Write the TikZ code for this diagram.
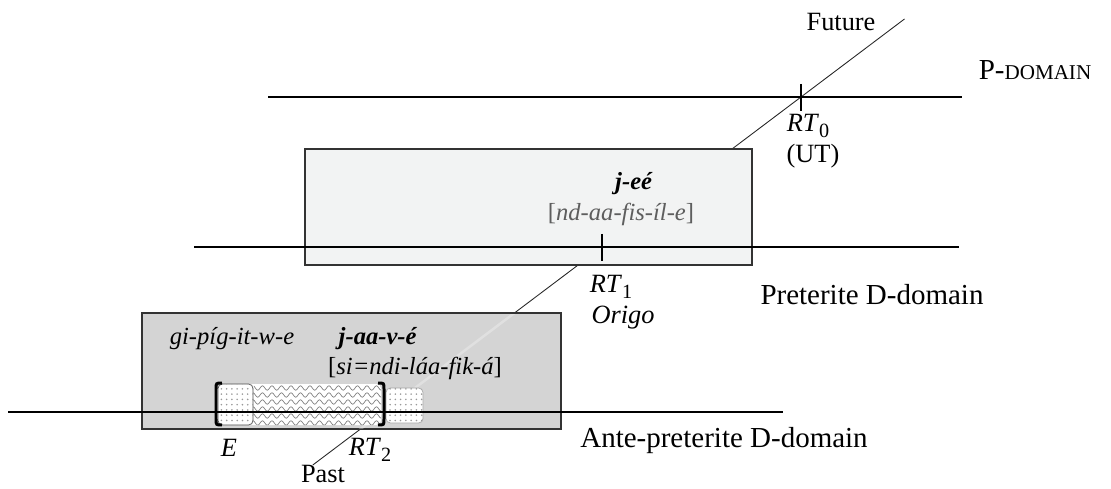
\documentclass[tikz,border=0pt]{standalone}
\usepackage{fontspec}
\setmainfont{Liberation Serif}
\usetikzlibrary{calc,patterns,decorations.pathmorphing}
\definecolor{boxlight}{HTML}{F2F3F3}
\definecolor{boxdark}{HTML}{D4D4D4}
\definecolor{glossgray}{HTML}{5E5E5E}
\newcommand{\rtsub}[1]{\textit{RT}\raisebox{-0.45ex}{\fontsize{11.5}{12}\selectfont #1}}
\tikzset{
  timeline/.style={line width=1.1pt, black},
  timearrow/.style={line width=0.5pt, black!85},
  tick/.style={line width=0.8pt, black},
  domainbox/.style={line width=0.8pt, draw=black!80},
  spanbox/.style={fill=white, rounded corners=2.5pt, postaction={pattern=dots, pattern color=black!40}},
  wave/.style={black!55, line width=0.35pt, decorate, decoration={snake, amplitude=0.045cm, segment length=0.19cm}},
  bracketline/.style={line width=1.7pt, black},
  lbl/.style={inner sep=0pt, font=\fontsize{15}{17}\selectfont},
  domlbl/.style={inner sep=0pt, font=\fontsize{16.5}{19}\selectfont},
  boxtext/.style={inner sep=0pt, font=\fontsize{14}{17}\selectfont}
}
\begin{document}
\begin{tikzpicture}[x=0.02cm, y=-0.02cm]
        \useasboundingbox (0,0) rectangle (1111,489);
        % Reference points and the time arrow through them
        \coordinate (rt0) at (801,97);
        \coordinate (rt1) at (602,247);
        \coordinate (past) at ($(rt1)!-1.453!(rt0)$);
        \coordinate (future) at ($(rt1)!1.52!(rt0)$);
        \draw[timearrow] (past) -- (future);
        % Domain boxes (over the arrow)
        \draw[domainbox, fill=boxlight] (305,149) rectangle (752,265);
        \draw[domainbox, fill=boxdark] (142,313) rectangle (561,429);
        \begin{scope}
            \clip (143,314) rectangle (560,428);
            \draw[white, opacity=0.3, line width=1.4pt] (past) -- (future);
        \end{scope}
        % Event span E
        \fill[white, rounded corners=2.5pt] (218,384) rectangle (381,425);
        \draw[spanbox, draw=black!70, line width=0.4pt] (218,384) rectangle (253,425);
        \begin{scope}
            \clip[rounded corners=2.5pt] (253,384) rectangle (381,425);
            \foreach \yy in {388,395,...,424}
                \draw[wave] (250,\yy) -- (386,\yy);
        \end{scope}
        \draw[spanbox, draw=black!35, line width=0.4pt] (386,388) rectangle (423,423);
        \draw[bracketline] (222,383) .. controls (216,383) .. (216,389) -- (216,419) .. controls (216,425) .. (222,425);
        \draw[bracketline] (378,383) .. controls (384,383) .. (384,389) -- (384,419) .. controls (384,425) .. (378,425);
        % Domain lines
        \foreach \n/\a/\b/\y in {pdom/268/962/97, pret/194/959/247, ante/8/783/412} {
            \coordinate (\n-w) at (\a,\y);
            \coordinate (\n-e) at (\b,\y);
            \draw[timeline] (\n-w) -- (\n-e);
        }
        \foreach \t in {rt0, rt1}
        {   \draw[tick] ($(\t)+(0,-13)$) -- ($(\t)+(0,14)$);}
        % Labels
        \node[lbl] (fut) at (841,22) {Future};
        \node[lbl] (pst) at (323,474) {Past};
        \node[lbl] (rt0lbl) at (808,126) {\rtsub{0}};
        \node[lbl] (ut) at (813,156) {(UT)};
        \node[lbl] (rt1lbl) at (611,287) {\rtsub{1}};
        \node[lbl] (origo) at (623,318) {\textit{Origo}};
        \node[lbl] (elbl) at (229,448) {\textit{E}};
        \node[lbl] (rt2lbl) at (370,450) {\rtsub{2}};
        \node[domlbl] (pdomlbl) at (1035,70) {P-{\fontsize{12}{14}\selectfont DOMAIN}};
        \node[domlbl] (pretlbl) at (872,295) {Preterite D-domain};
        \node[domlbl] (antelbl) at (724,441) {Ante-preterite D-domain};
        % Forms in the boxes
        \node[boxtext] (jee) at (634,184) {\textbf{\textit{j-eé}}};
        \node[boxtext, text=glossgray] (ndaa) at (621,214) {[\textit{nd-aa-fis-íl-e}]};
        \node[boxtext] (gipig) at (232,339) {\textit{gi-píg-it-w-e}};
        \node[boxtext] (jaave) at (378,339) {\textbf{\textit{j-aa-v-é}}};
        \node[boxtext] (sindi) at (415,368) {[\textit{si=ndi-láa-fik-á}]};
    \end{tikzpicture}
\end{document}
